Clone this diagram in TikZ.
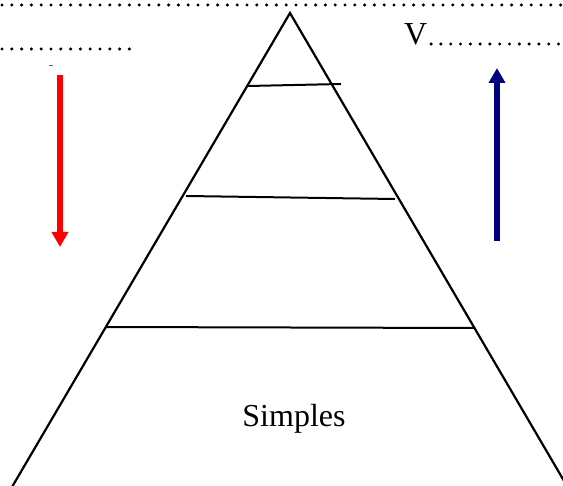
\documentclass[tikz,border=0pt]{standalone}
\usepackage{fontspec}
\setmainfont{Liberation Serif}
\usetikzlibrary{arrows.meta}
\definecolor{bleuF}{RGB}{0,0,128}
\begin{document}
\begin{tikzpicture}[
		x=0.5pt, y=-0.5pt, line width=1pt,
		cote/.style={line width=1.1pt, line cap=round, black},
		palier/.style={line width=1pt, black},
		pointilles/.style={line width=1.7pt, line cap=round,
			dash pattern=on 0pt off 4.9pt},
		fleche/.style={-{Triangle[width=8pt, length=7.5pt]},
			line width=2.6pt},
		texte/.style={font=\fontsize{16}{19}\selectfont, inner sep=0pt}]
	
	\useasboundingbox (0,0) rectangle (563,486);
	\clip (0,0) rectangle (563,486);
	
	%% lignes pointillees
	\draw[pointilles] (2,5) -- (563,5);
	\draw[pointilles] (2,49) -- (138,49);
	\node[texte, anchor=base west] (v) at (403,45) {V};
	\draw[pointilles] ([xshift=1.5pt]v.base east) ++(0,-1) -- (563,44);
	
	%% pyramide
	\coordinate (sommet) at (290,13);
	\coordinate (baseG) at (12,487);
	\coordinate (baseD) at (567,486);
	\draw[cote] (baseG) -- (sommet) -- (baseD);
	
	%% paliers (traces a main levee)
	\draw[palier] (248,86) -- (341,84);
	\draw[palier] (186,196) -- (395,199);
	\draw[palier] (105,327) -- (475,328);
	
	\node[texte] (simples) at (294,419) {Simples};
	
	%% fleches
	\coordinate (rougeH) at (60,75);
	\coordinate (rougeB) at (60,247);
	\draw[fleche, red] (rougeH) -- (rougeB);
	\draw[line width=0.4pt, black!60] (49,65) -- (53,65);
	
	\coordinate (bleuB) at (497,241);
	\coordinate (bleuH) at (497,68);
	\draw[fleche, bleuF] (bleuB) -- (bleuH);
	
\end{tikzpicture}
\end{document}
